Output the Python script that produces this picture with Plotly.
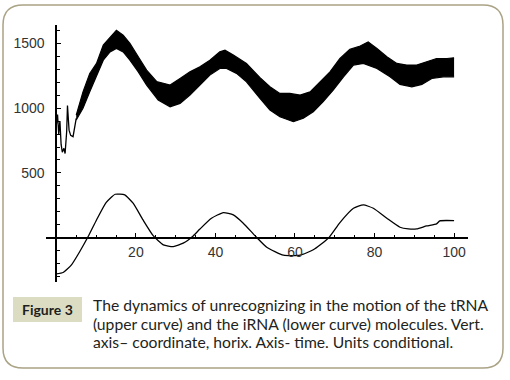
import plotly.graph_objects as go

# ---------------- data ----------------
# upper curve (tRNA): thin start segment, then a dense oscillating band
trna_start_x = [0.0, 0.3, 0.6, 0.9, 1.2, 1.5, 1.9, 2.2, 2.6, 2.8, 3.2, 3.6, 4.2, 5.0]
trna_start_y = [870, 950, 800, 900, 720, 660, 690, 650, 820, 1020, 830, 790, 780, 920]

trna_top_x = [5.0, 6.7, 8.4, 10.1, 11.8, 13.5, 15.1, 16.8, 18.5, 20.6, 22.7, 25.2, 28.6,
              31.1, 33.6, 36.1, 38.6, 41.1, 42.4, 44.5, 47.8, 51.2, 53.7, 56.2, 58.7,
              61.3, 63.8, 66.3, 68.8, 71.3, 73.8, 76.4, 78.4, 80.6, 83.1, 85.6, 88.1,
              90.6, 93.1, 95.6, 98.2, 100.0]
trna_top_y = [946, 1125, 1267, 1344, 1485, 1548, 1600, 1562, 1498, 1395, 1292, 1205, 1177,
              1228, 1279, 1318, 1369, 1433, 1446, 1408, 1344, 1235, 1164, 1113, 1113,
              1100, 1125, 1202, 1279, 1382, 1452, 1478, 1510, 1459, 1395, 1344, 1331,
              1331, 1356, 1382, 1382, 1387]

trna_bot_x = [5.0, 6.7, 8.4, 10.1, 11.8, 13.5, 15.1, 16.8, 18.5, 20.6, 22.7, 25.6, 28.6,
              31.1, 33.6, 36.1, 38.6, 41.1, 42.8, 45.3, 47.8, 51.2, 53.7, 56.2, 59.6,
              62.1, 64.6, 67.1, 69.6, 72.2, 74.7, 77.2, 80.6, 83.9, 86.4, 89.4, 91.9,
              94.4, 97.3, 100.0]
trna_bot_y = [908, 998, 1125, 1241, 1369, 1433, 1459, 1433, 1369, 1279, 1177, 1062, 1010,
              1036, 1100, 1177, 1254, 1305, 1305, 1267, 1202, 1074, 985, 933, 895,
              921, 972, 1049, 1138, 1241, 1331, 1344, 1305, 1241, 1182, 1164, 1182,
              1228, 1241, 1241]

# lower curve (iRNA)
irna_x = [0.0, 1.7, 3.8, 5.9, 8.0, 10.1, 12.5, 14.8, 17.2, 19.3, 21.8, 24.4, 26.9, 29.4,
          31.9, 34.4, 36.1, 39.0, 42.0, 44.5, 47.0, 50.0, 52.9, 57.1, 61.3, 64.6, 68.4,
          71.3, 74.7, 77.2, 79.7, 83.1, 86.4, 88.5, 90.6, 93.1, 95.6, 96.4, 100.0]
irna_y = [-277, -267, -208, -105, 10, 138, 272, 336, 331, 267, 138, 15, -54, -67,
          -41, 15, 68, 151, 195, 177, 113, 15, -72, -133, -133, -92, -2,
          118, 228, 254, 228, 151, 82, 69, 69, 92, 108, 131, 133]

x_ticks = [20, 40, 60, 80, 100]
y_ticks = [500, 1000, 1500]
x_range = [-2.6, 103.5]
y_range = [-340, 1640]

caption_label = "Figure 3"
caption_lines = ["The dynamics of unrecognizing in the motion of the tRNA",
                 "(upper curve) and the iRNA (lower curve) molecules. Vert.",
                 "axis\u2013 coordinate, horix. Axis- time. Units conditional."]

# ---------------- layout geometry ----------------
W, H = 510, 380
ML, MR, MT, MB = 46, 42, 25, 98
PW, PH = W - ML - MR, H - MT - MB


def pxx(px):
    return (px - ML) / PW


def pxy(py):
    return (H - MB - py) / PH


fig = go.Figure()

# band of the upper curve
fig.add_trace(go.Scatter(x=trna_bot_x, y=trna_bot_y, mode="lines",
                         line=dict(color="black", width=1.2), hoverinfo="skip"))
fig.add_trace(go.Scatter(x=trna_top_x, y=trna_top_y, mode="lines", fill="tonextx",
                         fillcolor="black", line=dict(color="black", width=1.2),
                         hoverinfo="skip"))
fig.add_trace(go.Scatter(x=trna_start_x, y=trna_start_y, mode="lines",
                         line=dict(color="black", width=1.3), hoverinfo="skip"))
fig.add_trace(go.Scatter(x=irna_x, y=irna_y, mode="lines",
                         line=dict(color="black", width=1.3, shape="spline", smoothing=0.5),
                         hoverinfo="skip"))

tickfont = dict(family="Liberation Sans", size=14, color="#333333")

fig.update_layout(
    width=W, height=H, showlegend=False,
    paper_bgcolor="white", plot_bgcolor="white",
    margin=dict(l=ML, r=MR, t=MT, b=MB, pad=0),
    xaxis=dict(range=x_range, anchor="free",
               position=(0 - y_range[0]) / (y_range[1] - y_range[0]),
               showline=True, linecolor="black", linewidth=2,
               showgrid=False, zeroline=False,
               tickmode="array", tickvals=x_ticks, ticks="inside", ticklen=4,
               tickwidth=1.3, tickcolor="black", tickfont=tickfont,
               ticklabelstandoff=1,
               minor=dict(ticks="inside", ticklen=2, tickwidth=1.2, tickcolor="black",
                          tickmode="linear", tick0=0, dtick=5)),
    yaxis=dict(range=y_range, anchor="free",
               position=(0 - x_range[0]) / (x_range[1] - x_range[0]),
               showline=True, linecolor="black", linewidth=2,
               showgrid=False, zeroline=False,
               tickmode="array", tickvals=y_ticks, ticks="inside", ticklen=4,
               tickwidth=1.3, tickcolor="black", tickfont=tickfont,
               ticklabelstandoff=8,
               minor=dict(ticks="inside", ticklen=3, tickwidth=1.2, tickcolor="black",
                          tickmode="linear", tick0=0, dtick=100)),
)

# rounded frame around the whole figure
L, R, T, B, r = 3, 503, 5, 368, 20
path = (f"M {pxx(L + r)} {pxy(T)} L {pxx(R - r)} {pxy(T)} "
        f"Q {pxx(R)} {pxy(T)} {pxx(R)} {pxy(T + r)} L {pxx(R)} {pxy(B - r)} "
        f"Q {pxx(R)} {pxy(B)} {pxx(R - r)} {pxy(B)} L {pxx(L + r)} {pxy(B)} "
        f"Q {pxx(L)} {pxy(B)} {pxx(L)} {pxy(B - r)} L {pxx(L)} {pxy(T + r)} "
        f"Q {pxx(L)} {pxy(T)} {pxx(L + r)} {pxy(T)} Z")
fig.add_shape(type="path", path=path, xref="paper", yref="paper",
              line=dict(color="#aaa385", width=1.5), layer="below")

# "Figure 3" label box
fig.add_shape(type="rect", xref="paper", yref="paper",
              x0=pxx(13), x1=pxx(82), y0=pxy(322), y1=pxy(297),
              fillcolor="#dcdcc2", line=dict(width=0), layer="below")
fig.add_annotation(x=pxx(47.5), y=pxy(309.5), xref="paper", yref="paper",
                   text=f"<b>{caption_label}</b>", showarrow=False,
                   xanchor="center", yanchor="middle",
                   font=dict(family="Lato", size=14, color="#1e1e1e"))

line_y = [305, 323.5, 342]
for txt, yy in zip(caption_lines, line_y):
    fig.add_annotation(x=pxx(91), y=pxy(yy), xref="paper", yref="paper",
                       text=txt, showarrow=False, xanchor="left", yanchor="middle",
                       font=dict(family="Lato", size=15.7, color="#231f20"))

fig.write_html("out.html")
